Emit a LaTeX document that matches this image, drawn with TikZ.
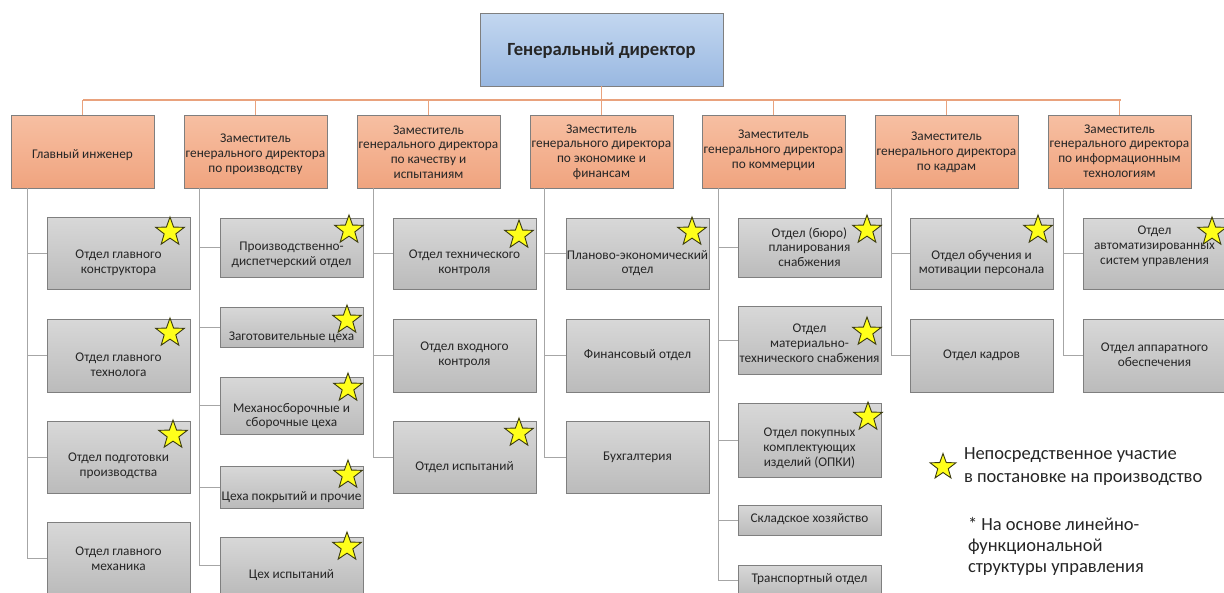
\documentclass[tikz,border=0pt]{standalone}
\usepackage{fontspec}
\setmainfont{Carlito}
\usetikzlibrary{shapes.geometric}

\definecolor{txtcol}{HTML}{262626}
\definecolor{orfillA}{HTML}{F7BFA2}
\definecolor{orfillB}{HTML}{F0A47F}
\definecolor{orline}{HTML}{E9A27D}
\definecolor{blfillA}{HTML}{C3D7F0}
\definecolor{blfillB}{HTML}{99B8E1}
\definecolor{grfillA}{HTML}{D8D8D8}
\definecolor{grfillB}{HTML}{BBBBBB}
\definecolor{boxedge}{HTML}{7F7F7F}
\definecolor{grline}{HTML}{A6A6A6}
\definecolor{starfill}{HTML}{FFFF1A}
\definecolor{staredge}{HTML}{3B3B10}

% department box: name, style, x0, y0, x1, y1, text centre y, text
\newcommand{\dept}[8]{%
  \node[#2, minimum width={#5pt-#3pt}, minimum height={#6pt-#4pt}]
    (#1) at ({(#3+#5)/2},{(#4+#6)/2}) {};
  \node[boxtext] (#1-t) at ({(#3+#5)/2},#7) {#8};
}

\begin{document}
\begin{tikzpicture}[x=1pt,y=-1pt,
  every node/.style={inner sep=0pt, outer sep=0pt},
  bluebox/.style={draw=boxedge, line width=0.9pt, top color=blfillA, bottom color=blfillB},
  orbox/.style={draw=boxedge, line width=0.9pt, top color=orfillA, bottom color=orfillB},
  grbox/.style={draw=boxedge, line width=0.9pt, top color=grfillA, bottom color=grfillB},
  boxtext/.style={align=center, text=txtcol, font=\fontsize{13.3}{14.8}\selectfont},
  legtext/.style={align=left, text=txtcol, anchor=west},
  orconn/.style={draw=orline, line width=1.4pt},
  grconn/.style={draw=grline, line width=0.9pt},
  starmark/.style={star, star points=5, star point ratio=2.45, minimum size=30pt,
    fill=starfill, draw=staredge, line width=0.9pt},
]
\useasboundingbox[fill=white] (0,0) rectangle (1224,592);

% ---- general director ----
\dept{gd}{bluebox}{480}{13}{723}{86}{50}{}
\node[text=txtcol, font=\fontsize{18.6}{21}\selectfont\bfseries] (gd-title) at (601.5,51) {Генеральный директор};

% ---- deputies ----
\dept{m1}{orbox}{11}{115}{154}{188}{155}{Главный инженер}
\dept{m2}{orbox}{184}{115}{327}{188}{154}{Заместитель\\генерального директора\\по производству}
\dept{m3}{orbox}{357}{115}{500}{188}{152}{Заместитель\\генерального директора\\по качеству и\\испытаниям}
\dept{m4}{orbox}{530}{115}{673}{188}{152}{Заместитель\\генерального директора\\по экономике и\\финансам}
\dept{m5}{orbox}{702}{115}{845}{188}{150}{Заместитель\\генерального директора\\по коммерции}
\dept{m6}{orbox}{875}{115}{1018}{188}{152}{Заместитель\\генерального директора\\по кадрам}
\dept{m7}{orbox}{1048}{115}{1191}{188}{151}{Заместитель\\генерального директора\\по информационным\\технологиям}

% ---- top-level connectors ----
\coordinate (busL) at (83,100);
\coordinate (busR) at (1121,100);
\draw[orconn] (busL) -- (busR);
\draw[orconn] (gd.south) -- (gd.south |- busL);
\foreach \m in {m1,m2,m3,m4,m5,m6,m7}
  \draw[orconn] (\m.north) -- (\m.north |- busL);

% ---- column 1 ----
\dept{c11}{grbox}{47}{217}{190}{289}{263}{Отдел главного\\конструктора}
\dept{c12}{grbox}{47}{319}{190}{392}{365}{Отдел главного\\технолога}
\dept{c13}{grbox}{47}{421}{190}{493}{466}{Отдел подготовки\\производства}
\dept{c14}{grbox}{47}{522}{190}{594}{559}{Отдел главного\\механика}
% ---- column 2 ----
\dept{c21}{grbox}{220}{218}{363}{277}{255}{Производственно-\\диспетчерский отдел}
\dept{c22}{grbox}{220}{307}{363}{347}{337}{Заготовительные цеха}
\dept{c23}{grbox}{220}{377}{363}{434}{416}{Механосборочные и\\сборочные цеха}
\dept{c24}{grbox}{220}{466}{363}{508}{497}{Цеха покрытий и прочие}
\dept{c25}{grbox}{220}{537}{363}{593}{575}{Цех испытаний}
% ---- column 3 ----
\dept{c31}{grbox}{393}{218}{536}{289}{263}{Отдел технического\\контроля}
\dept{c32}{grbox}{393}{319}{536}{392}{355}{Отдел входного\\контроля}
\dept{c33}{grbox}{393}{421}{536}{493}{467}{Отдел испытаний}
% ---- column 4 ----
\dept{c41}{grbox}{566}{218}{709}{289}{263}{Планово-экономический\\отдел}
\dept{c42}{grbox}{566}{319}{709}{392}{355}{Финансовый отдел}
\dept{c43}{grbox}{566}{421}{709}{493}{457}{Бухгалтерия}
% ---- column 5 ----
\dept{c51}{grbox}{738}{218}{881}{277}{247}{Отдел (бюро)\\планирования\\снабжения}
\dept{c52}{grbox}{738}{306}{881}{374}{343}{Отдел\\материально-\\технического снабжения}
\dept{c53}{grbox}{738}{403}{881}{477}{448}{Отдел покупных\\комплектующих\\изделий (ОПКИ)}
\dept{c54}{grbox}{738}{505}{881}{535}{519}{Складское хозяйство}
\dept{c55}{grbox}{738}{565}{881}{595}{579}{Транспортный отдел}
% ---- column 6 ----
\dept{c61}{grbox}{910}{218}{1053}{289}{263}{Отдел обучения и\\мотивации персонала}
\dept{c62}{grbox}{910}{319}{1053}{392}{355}{Отдел кадров}
% ---- column 7 ----
\dept{c71}{grbox}{1083}{218}{1226}{289}{246}{Отдел\\автоматизированных\\систем управления}
\dept{c72}{grbox}{1083}{319}{1226}{392}{355}{Отдел аппаратного\\обеспечения}

% ---- trunks from each deputy to its departments ----
\coordinate (t1) at (27,188);
\coordinate (t2) at (199,188);
\coordinate (t3) at (373,188);
\coordinate (t4) at (544,188);
\coordinate (t5) at (718,188);
\coordinate (t6) at (891,188);
\coordinate (t7) at (1063,188);
\draw[grconn] (t1) |- (c14.west);
\foreach \c in {c11,c12,c13} \draw[grconn] (t1 |- \c.west) -- (\c.west);
\draw[grconn] (t2) |- (c25.west);
\foreach \c in {c21,c22,c23,c24} \draw[grconn] (t2 |- \c.west) -- (\c.west);
\draw[grconn] (t3) |- (c33.west);
\foreach \c in {c31,c32} \draw[grconn] (t3 |- \c.west) -- (\c.west);
\draw[grconn] (t4) |- (c43.west);
\foreach \c in {c41,c42} \draw[grconn] (t4 |- \c.west) -- (\c.west);
\draw[grconn] (t5) |- (c55.west);
\foreach \c in {c51,c52,c53,c54} \draw[grconn] (t5 |- \c.west) -- (\c.west);
\draw[grconn] (t6) |- (c62.west);
\draw[grconn] (t6 |- c61.west) -- (c61.west);
\draw[grconn] (t7) |- (c72.west);
\draw[grconn] (t7 |- c71.west) -- (c71.west);

% ---- stars: direct participation ----
\node[starmark] (s11) at (170,232) {};
\node[starmark] (s12) at (170,333) {};
\node[starmark] (s13) at (173,435) {};
\node[starmark] (s21) at (349,230) {};
\node[starmark] (s22) at (347,320) {};
\node[starmark] (s23) at (348,388) {};
\node[starmark] (s24) at (348,475) {};
\node[starmark] (s25) at (347,547) {};
\node[starmark] (s31) at (519,235) {};
\node[starmark] (s33) at (519,433) {};
\node[starmark] (s41) at (692,232) {};
\node[starmark] (s51) at (867,230) {};
\node[starmark] (s52) at (867,332) {};
\node[starmark] (s53) at (868,417) {};
\node[starmark] (s61) at (1038,230) {};
\node[starmark] (s71) at (1212,232) {};

% ---- legend ----
\node[starmark, minimum size=27pt] (legstar) at (943,467) {};
\node[legtext, font=\fontsize{18.5}{23}\selectfont] (legend1) at (964,467)
  {Непосредственное участие\\в постановке на производство};
\node[legtext, font=\fontsize{18.5}{21}\selectfont] (legend2) at (968,546)
  {* На основе линейно-\\функциональной\\структуры управления};
\end{tikzpicture}
\end{document}
